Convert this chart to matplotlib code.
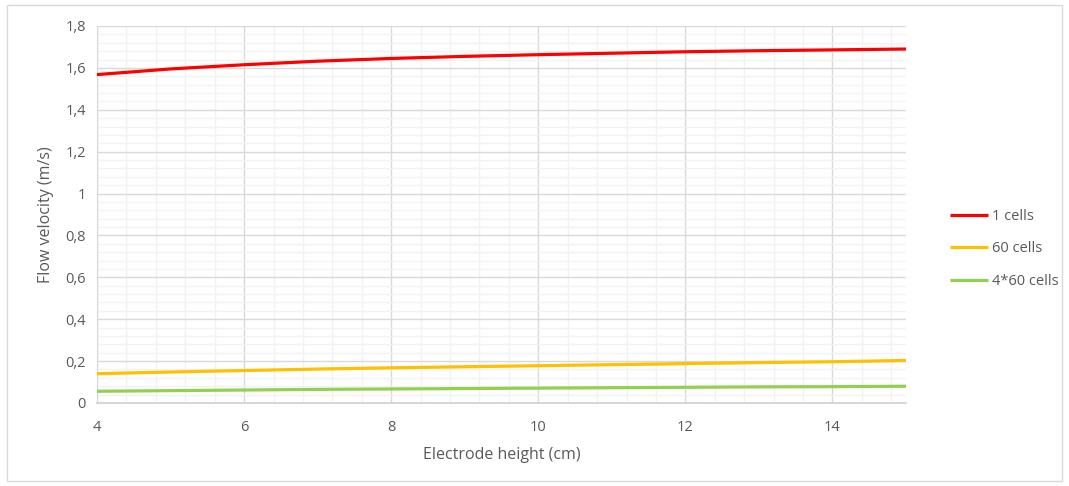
import matplotlib
matplotlib.use("Agg")
import matplotlib.pyplot as plt
from matplotlib.ticker import MultipleLocator, FuncFormatter
from matplotlib.patches import Rectangle

heights = [4, 5, 6, 7, 8, 9, 10, 11, 12, 13, 14, 15]
one_cell = [1.568, 1.595, 1.615, 1.632, 1.645, 1.655, 1.663, 1.670, 1.677, 1.682, 1.686, 1.690]
sixty_cells = [0.140, 0.148, 0.155, 0.162, 0.168, 0.173, 0.178, 0.183, 0.188, 0.193, 0.197, 0.203]
four_sixty_cells = [0.056, 0.059, 0.062, 0.065, 0.067, 0.069, 0.071, 0.073, 0.075, 0.077, 0.078, 0.080]

series = [("1 cells", one_cell, "#FF0000"),
          ("60 cells", sixty_cells, "#FFC000"),
          ("4*60 cells", four_sixty_cells, "#92D050")]

plt.rcParams['font.family'] = ['Open Sans', 'DejaVu Sans']
txt = "#595959"

fig = plt.figure(figsize=(10.69, 4.86), dpi=100)
ax = fig.add_axes([97/1069, 1-403/486, (906-97)/1069, (403-26)/486])

for name, vals, col in series:
    ax.plot(heights, vals, color=col, lw=2.3, label=name, solid_capstyle='butt', zorder=3)

ax.set_xlim(4, 15)
ax.set_ylim(0, 1.8)
ax.xaxis.set_major_locator(MultipleLocator(2))
ax.xaxis.set_minor_locator(MultipleLocator(0.4))
ax.yaxis.set_major_locator(MultipleLocator(0.2))
ax.yaxis.set_minor_locator(MultipleLocator(0.04))
fmt = FuncFormatter(lambda v, p: ("%g" % round(v, 2)).replace('.', ','))
ax.xaxis.set_major_formatter(fmt)
ax.yaxis.set_major_formatter(fmt)
ax.grid(which='major', color='#D9D9D9', lw=1.0, zorder=1)
ax.grid(which='minor', color='#F2F2F2', lw=1.0, zorder=0)
ax.tick_params(which='both', length=0, colors=txt, labelsize=10.5)
ax.tick_params(axis='x', pad=12)
ax.tick_params(axis='y', pad=8)
for s in ['top', 'right']:
    ax.spines[s].set_visible(False)
ax.spines['bottom'].set_color('#D0D0D0')
ax.spines['left'].set_color('#D9D9D9')
ax.spines['bottom'].set_linewidth(1.2)

ax.set_xlabel("Electrode height (cm)", color=txt, fontsize=11.5, labelpad=9)
ax.set_ylabel("Flow velocity (m/s)", color=txt, fontsize=11.5, labelpad=8)

leg = ax.legend(loc='upper left', bbox_to_anchor=(1.0544, 0.514), frameon=False,
                borderpad=0, borderaxespad=0,
                fontsize=10.5, handlelength=2.6, handletextpad=0.3, labelspacing=1.18)
for t in leg.get_texts():
    t.set_color(txt)

fig.patches.append(Rectangle((7/1069, 5/486), 1055/1069, 476/486, transform=fig.transFigure,
                             fill=False, edgecolor='#D9D9D9', lw=1))

fig.savefig("out.png", dpi=100)
